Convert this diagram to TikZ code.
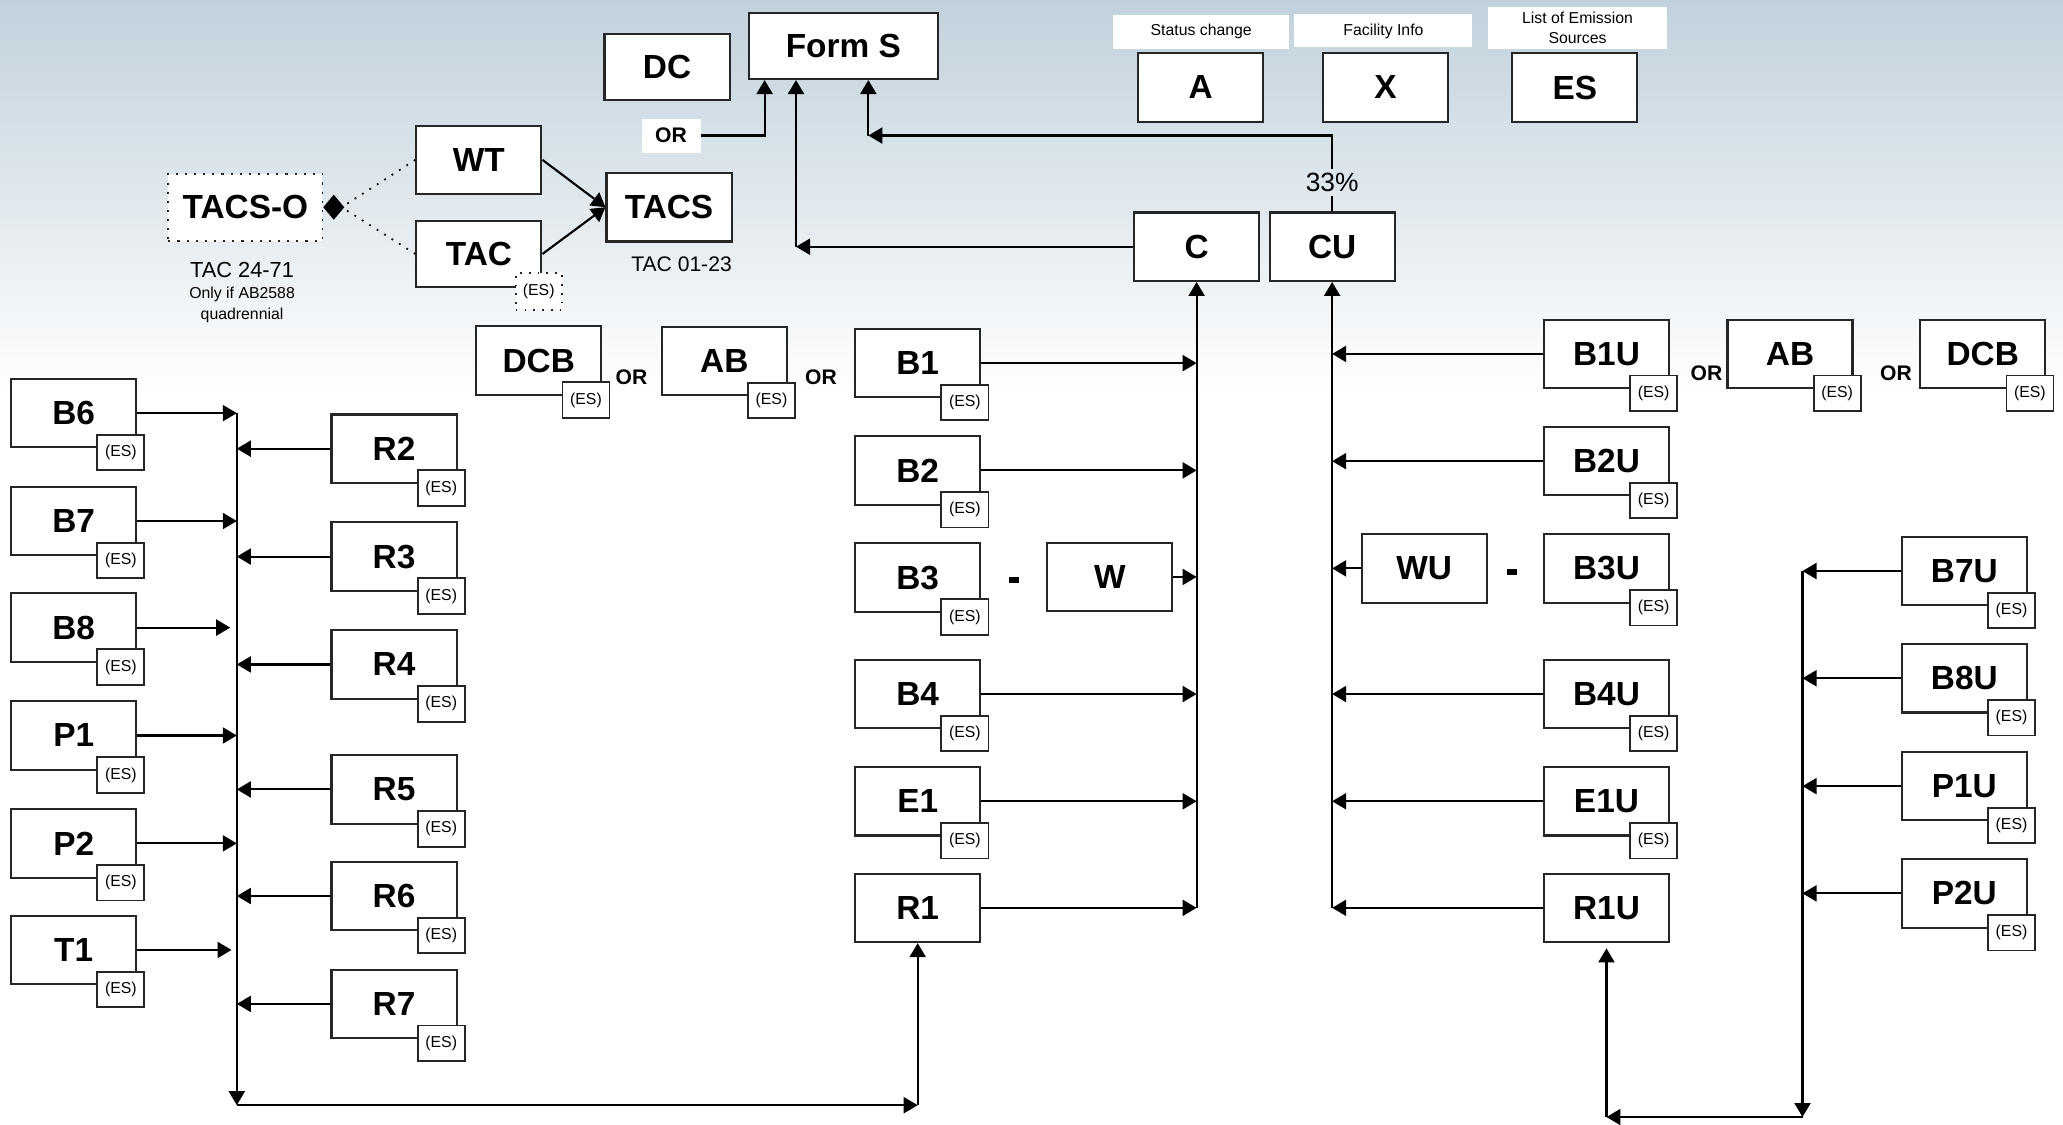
\documentclass[tikz,border=0pt]{standalone}
\usepackage{fontspec}
\setmainfont{Liberation Sans}
\usetikzlibrary{calc,arrows.meta}

\definecolor{himmel}{RGB}{193,209,220}
\definecolor{himmelmitte}{RGB}{222,231,236}

\tikzset{
  box/.style={draw=black!85, fill=white, line width=0.6pt, minimum width=1.25cm, minimum height=0.684cm, inner sep=0pt, font=\fontsize{9.5}{11}\selectfont\bfseries},
  esbox/.style={draw=black!85, fill=white, line width=0.5pt, minimum width=0.47cm, minimum height=0.355cm, inner sep=0pt, anchor=north west, font=\fontsize{4.5}{5}\selectfont},
  orlabel/.style={inner sep=0pt, font=\fontsize{6}{7}\selectfont\bfseries},
  strich/.style={fill=black, inner sep=0pt, minimum width=0.1cm, minimum height=0.06cm},
  info/.style={fill=white, inner sep=0pt, align=center, font=\fontsize{4.5}{5.7}\selectfont},
  note/.style={inner sep=0pt, font=\fontsize{6.2}{7}\selectfont},
  arr/.style={line width=0.6pt, -{Triangle[length=0.14cm,width=0.16cm]}},
}

\begin{document}
\begin{tikzpicture}[x=0.013157cm, y=-0.013157cm]

%HINTERGRUND
\useasboundingbox (0,0) rectangle (1568,854.3);
\fill[white] (0,0) rectangle (1568,854.3);
\shade[top color=himmel, middle color=himmelmitte, bottom color=white] (0,0) rectangle (1568,300);

%OBERE REIHE
\node[box, minimum height=0.658cm] (DC) at (507,51) {DC};
\node[box, minimum width=1.895cm, minimum height=0.658cm] (FormS) at (641,35) {Form S};
\node[orlabel, fill=white, minimum width=0.59cm, minimum height=0.34cm] (ortop) at (510,103) {OR};
\draw[arr] (ortop.east) -| ($(FormS.south west)+(13,0)$);

\node[info, minimum width=1.76cm, minimum height=0.34cm] (statustxt) at (913,24) {Status change};
\node[info, minimum width=1.78cm, minimum height=0.33cm] (facilitytxt) at (1051.5,23.5) {Facility Info};
\node[info, minimum width=1.79cm, minimum height=0.42cm] (listtxt) at (1199,21) {List of Emission\\Sources};
\node[box] (A) at (912.5,66.5) {A};
\node[box] (X) at (1053,66.5) {X};
\node[box] (ES) at (1197,66.5) {ES};

\node[box] (C) at (909.5,187.5) {C};
\node[box] (CU) at (1012.5,187.5) {CU};
\node[inner sep=1pt, font=\fontsize{7.5}{9}\selectfont] (pct) at (1012.5,139) {33\%};

%VERBINDUNGEN ZU FORM S
\coordinate (cturn) at (605,187.5);
\draw[arr] (C.west) -- (cturn);
\draw[arr] (cturn) -- (cturn |- FormS.south);
\coordinate (cuturn) at (660,103);
\draw[line width=0.6pt] (CU.north) -- (pct.south);
\draw[arr] (pct.north) |- (cuturn);
\draw[arr] (cuturn) -- (cuturn |- FormS.south);

%TACS GRUPPE
\node[box, dotted, line width=0.5pt, minimum width=1.54cm, minimum height=0.67cm] (TACSO) at (186.5,157.5) {TACS-O};
\node[box] (WT) at (364,121.5) {WT};
\node[box, minimum height=0.658cm] (TAC) at (364,193) {TAC};
\node[esbox, dotted, minimum width=0.46cm, minimum height=0.37cm] (TACes) at ($(TAC.south east)+(-21,-12)$) {(ES)};
\node[box] (TACS) at (508.5,157.5) {TACS};
\draw[arr] (WT.east) -- (TACS.west);
\draw[arr] (TAC.east) -- (TACS.west);
\coordinate (raute) at ($(TACSO.east)+(14,0)$);
\draw[dotted, line width=0.5pt] (WT.west) -- (raute);
\draw[dotted, line width=0.5pt] (TAC.west) -- (raute);
\draw[line width=0.5pt, -{Diamond[length=0.21cm,width=0.25cm]}] (raute) -- (TACSO.east);
\node[note] (tac2471) at (184,205) {TAC 24-71};
\node[info, fill=none] (nurwenn) at (184,224) {Only if AB2588};
\node[info, fill=none] (quad) at (184,240) {quadrennial};
\node[note, font=\fontsize{6}{7}\selectfont] (tac0123) at (518,201) {TAC 01-23};

%REIHE DCB OR AB OR
\node[box] (DCB) at (409.5,274) {DCB};
\node[esbox] (DCBes) at ($(DCB.south east)+(-31,-11)$) {(ES)};
\node[orlabel] (or1) at (480,287) {OR};
\node[box] (AB) at (550.5,274.5) {AB};
\node[esbox] (ABes) at ($(AB.south east)+(-31,-11)$) {(ES)};
\node[orlabel] (or2) at (624,287) {OR};

%SPALTE LINKS
\coordinate (ltop) at (180,314);
\coordinate (lbot) at (180,840);
\node[box] (B6) at (56,314) {B6};
\node[esbox] (B6es) at ($(B6.south east)+(-31,-11)$) {(ES)};
\node[box] (B7) at (56,396) {B7};
\node[esbox] (B7es) at ($(B7.south east)+(-31,-11)$) {(ES)};
\node[box] (B8) at (56,477) {B8};
\node[esbox] (B8es) at ($(B8.south east)+(-31,-11)$) {(ES)};
\node[box] (P1) at (56,559) {P1};
\node[esbox] (P1es) at ($(P1.south east)+(-31,-11)$) {(ES)};
\node[box] (P2) at (56,641) {P2};
\node[esbox] (P2es) at ($(P2.south east)+(-31,-11)$) {(ES)};
\node[box] (T1) at (56,722) {T1};
\node[esbox] (T1es) at ($(T1.south east)+(-31,-11)$) {(ES)};
\draw[arr] (B6.east) -- (B6.east -| ltop);
\draw[arr] (B7.east) -- (B7.east -| ltop);
\draw[arr] (B8.east) -- ($(B8.east -| ltop)+(-5,0)$);
\draw[arr] (P1.east) -- (P1.east -| ltop);
\draw[arr] (P2.east) -- (P2.east -| ltop);
\draw[arr] (T1.east) -- ($(T1.east -| ltop)+(-4,0)$);

%SPALTE R2 BIS R7
\node[box] (R2) at (299.5,341) {R2};
\node[esbox] (R2es) at ($(R2.south east)+(-31,-11)$) {(ES)};
\node[box] (R3) at (299.5,423) {R3};
\node[esbox] (R3es) at ($(R3.south east)+(-31,-11)$) {(ES)};
\node[box] (R4) at (299.5,505) {R4};
\node[esbox] (R4es) at ($(R4.south east)+(-31,-11)$) {(ES)};
\node[box] (R5) at (299.5,600) {R5};
\node[esbox] (R5es) at ($(R5.south east)+(-31,-11)$) {(ES)};
\node[box] (R6) at (299.5,681) {R6};
\node[esbox] (R6es) at ($(R6.south east)+(-31,-11)$) {(ES)};
\node[box] (R7) at (299.5,763) {R7};
\node[esbox] (R7es) at ($(R7.south east)+(-31,-11)$) {(ES)};
\draw[arr] (R2.west) -- (R2.west -| ltop);
\draw[arr] (R3.west) -- (R3.west -| ltop);
\draw[arr] (R4.west) -- (R4.west -| ltop);
\draw[arr] (R5.west) -- (R5.west -| ltop);
\draw[arr] (R6.west) -- (R6.west -| ltop);
\draw[arr] (R7.west) -- (R7.west -| ltop);

%SPALTE MITTE (ZU C)
\node[box] (B1) at (697.5,276) {B1};
\node[esbox] (B1es) at ($(B1.south east)+(-31,-11)$) {(ES)};
\node[box] (B2) at (697.5,357.5) {B2};
\node[esbox] (B2es) at ($(B2.south east)+(-31,-11)$) {(ES)};
\node[box] (B3) at (697.5,439) {B3};
\node[esbox] (B3es) at ($(B3.south east)+(-31,-11)$) {(ES)};
\node[strich] (dash1) at (771,441) {};
\node[box] (W) at (843.5,438.5) {W};
\node[box] (B4) at (697.5,527.5) {B4};
\node[esbox] (B4es) at ($(B4.south east)+(-31,-11)$) {(ES)};
\node[box] (E1) at (697.5,609) {E1};
\node[esbox] (E1es) at ($(E1.south east)+(-31,-11)$) {(ES)};
\node[box] (R1) at (697.5,690) {R1};
\coordinate (mbot) at (C.south |- R1.east);
\draw[arr] (mbot) -- (C.south);
\draw[arr] (B1.east) -- (B1.east -| C.south);
\draw[arr] (B2.east) -- (B2.east -| C.south);
\draw[arr] (W.east) -- (W.east -| C.south);
\draw[arr] (B4.east) -- (B4.east -| C.south);
\draw[arr] (E1.east) -- (E1.east -| C.south);
\draw[arr] (R1.east) -- (R1.east -| C.south);

%UNTEN LINKS
\coordinate (lcorner) at (R1.south |- lbot);
\draw[arr] (ltop) -- (lbot);
\draw[arr] (lbot) -- (lcorner);
\draw[arr] (lcorner) -- (R1.south);

%SPALTE U (ZU CU)
\node[box] (B1U) at (1221,269) {B1U};
\node[esbox] (B1Ues) at ($(B1U.south east)+(-31,-11)$) {(ES)};
\node[orlabel] (or3) at (1297,284) {OR};
\node[box] (ABU) at (1360.5,269) {AB};
\node[esbox] (ABUes) at ($(ABU.south east)+(-31,-11)$) {(ES)};
\node[orlabel] (or4) at (1441,284) {OR};
\node[box] (DCBU) at (1507,269) {DCB};
\node[esbox] (DCBUes) at ($(DCBU.south east)+(-31,-11)$) {(ES)};
\node[box] (B2U) at (1221,350.5) {B2U};
\node[esbox] (B2Ues) at ($(B2U.south east)+(-31,-11)$) {(ES)};
\node[box] (WU) at (1082.5,432) {WU};
\node[strich] (dash2) at (1149,435) {};
\node[box] (B3U) at (1221,432) {B3U};
\node[esbox] (B3Ues) at ($(B3U.south east)+(-31,-11)$) {(ES)};
\node[box] (B4U) at (1221,527.5) {B4U};
\node[esbox] (B4Ues) at ($(B4U.south east)+(-31,-11)$) {(ES)};
\node[box] (E1U) at (1221,609) {E1U};
\node[esbox] (E1Ues) at ($(E1U.south east)+(-31,-11)$) {(ES)};
\node[box] (R1U) at (1221,690) {R1U};
\coordinate (cubot) at (CU.south |- R1U.west);
\draw[arr] (cubot) -- (CU.south);
\draw[arr] (B1U.west) -- (B1U.west -| CU.south);
\draw[arr] (B2U.west) -- (B2U.west -| CU.south);
\draw[arr] (WU.west) -- (WU.west -| CU.south);
\draw[arr] (B4U.west) -- (B4U.west -| CU.south);
\draw[arr] (E1U.west) -- (E1U.west -| CU.south);
\draw[arr] (R1U.west) -- (R1U.west -| CU.south);

%SPALTE GANZ RECHTS
\coordinate (rtop) at (1370,434);
\coordinate (rbot) at (1370,849);
\node[box] (B7U) at (1493,434) {B7U};
\node[esbox] (B7Ues) at ($(B7U.south east)+(-31,-11)$) {(ES)};
\node[box] (B8U) at (1493,515.5) {B8U};
\node[esbox] (B8Ues) at ($(B8U.south east)+(-31,-11)$) {(ES)};
\node[box] (P1U) at (1493,597.5) {P1U};
\node[esbox] (P1Ues) at ($(P1U.south east)+(-31,-11)$) {(ES)};
\node[box] (P2U) at (1493,679) {P2U};
\node[esbox] (P2Ues) at ($(P2U.south east)+(-31,-11)$) {(ES)};
\draw[arr] (B7U.west) -- (B7U.west -| rtop);
\draw[arr] (B8U.west) -- (B8U.west -| rtop);
\draw[arr] (P1U.west) -- (P1U.west -| rtop);
\draw[arr] (P2U.west) -- (P2U.west -| rtop);

%UNTEN RECHTS
\coordinate (rcorner) at (R1U.south |- rbot);
\draw[arr] (rtop) -- (rbot);
\draw[arr] (rbot) -- (rcorner);
\draw[arr] (rcorner) -- ($(R1U.south)+(0,4)$);

\end{tikzpicture}
\end{document}
